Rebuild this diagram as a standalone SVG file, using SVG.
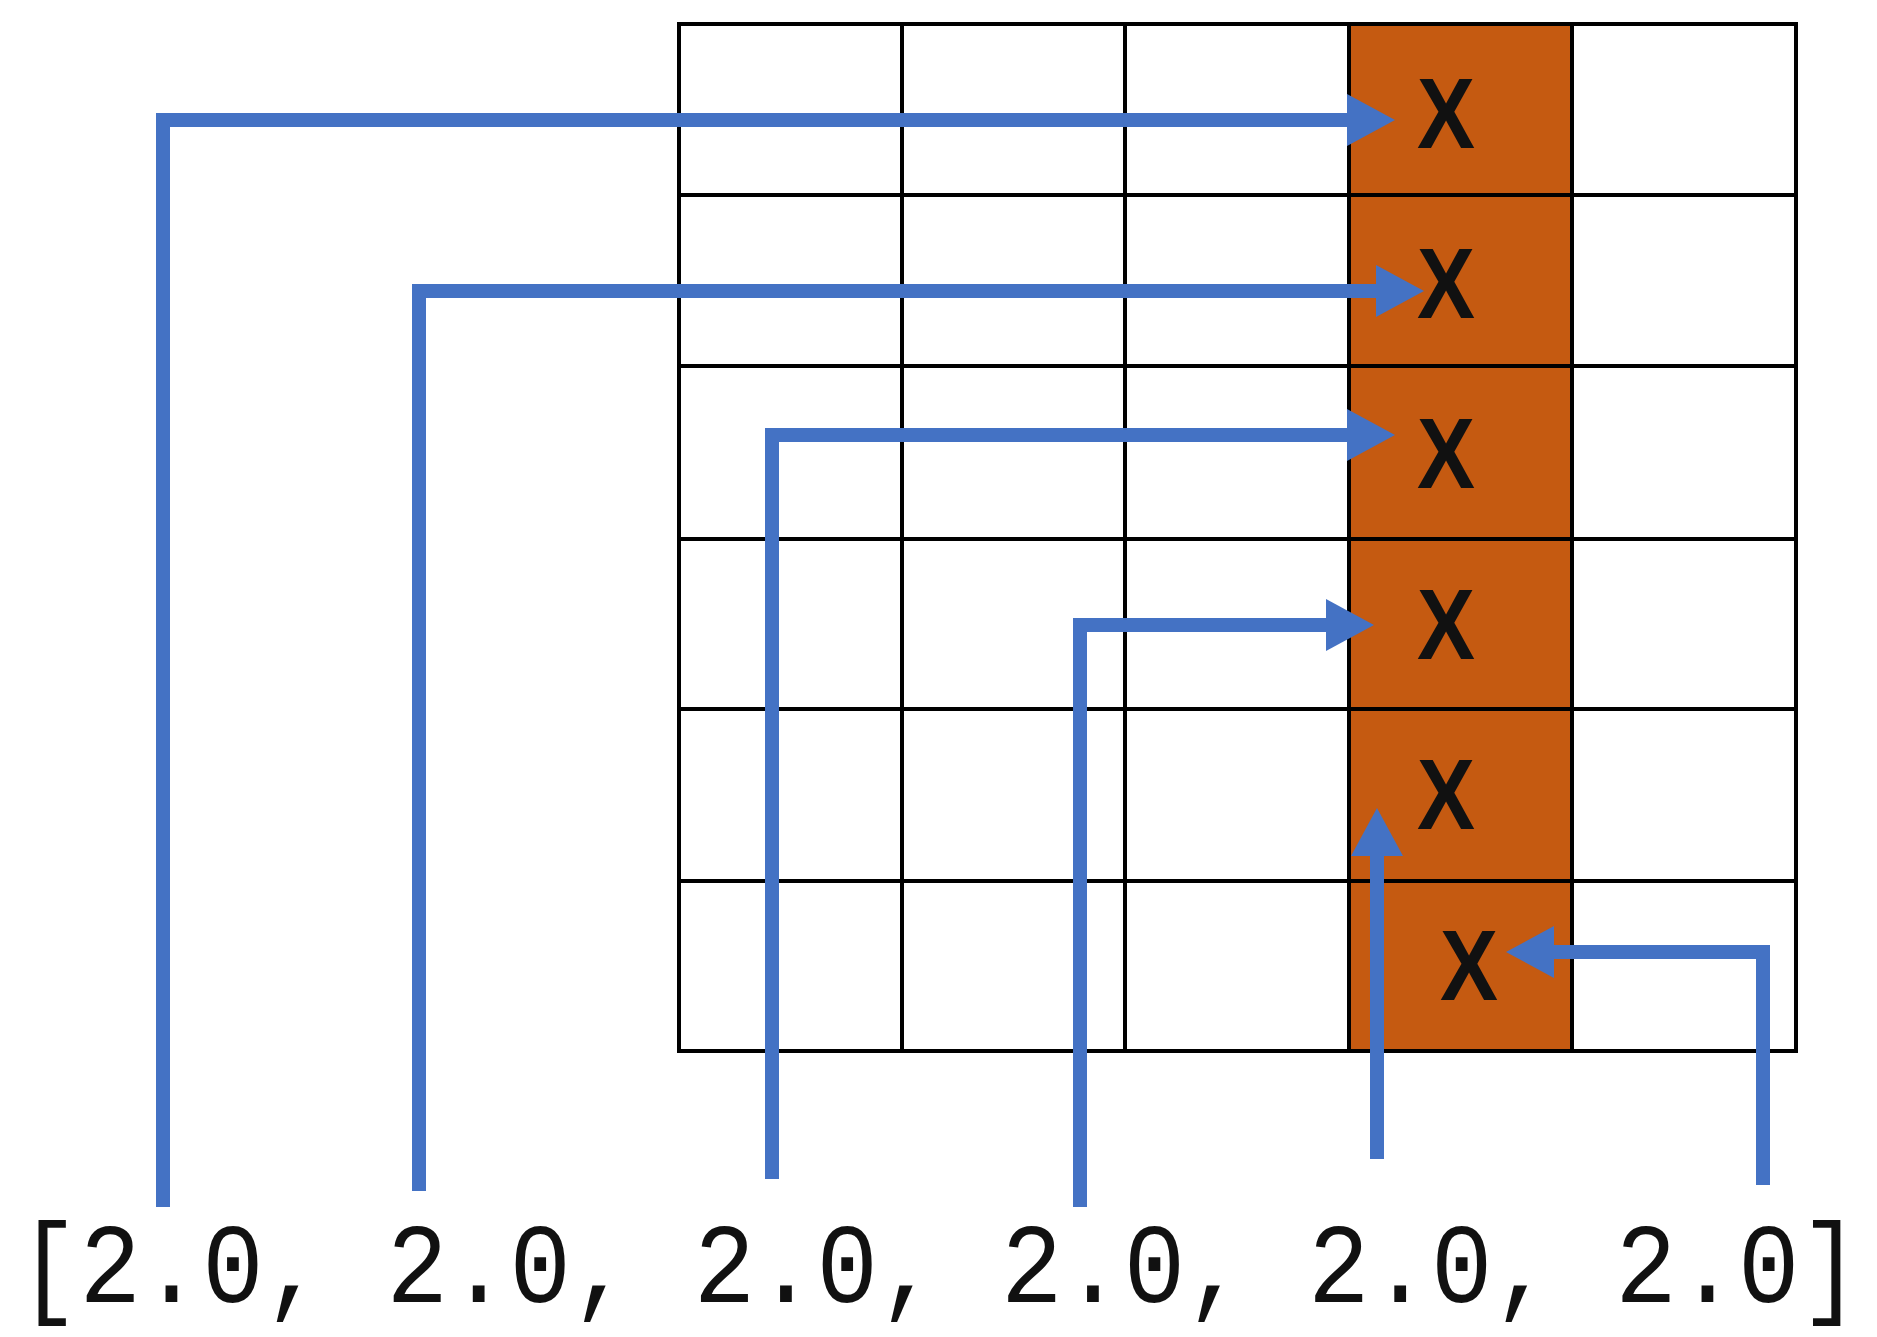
<svg xmlns="http://www.w3.org/2000/svg" width="1877" height="1337" viewBox="0 0 1877 1337">
<style>
.g{stroke:#000;stroke-width:4;fill:none}
.c{stroke:#4472C4;stroke-width:14;fill:none}
.x{font-family:"Liberation Sans",Arial,sans-serif;font-weight:bold;font-size:100px;fill:#111;text-anchor:middle}
.t{font-family:"Liberation Mono","Courier New",monospace;font-size:100px;fill:#111}
</style>
<defs>
<marker id="a" markerUnits="userSpaceOnUse" markerWidth="50" markerHeight="52" refX="8" refY="26" orient="auto"><path d="M0,0 L48,26 L0,52 Z" fill="#4472C4"/></marker>
</defs>
<rect width="1877" height="1337" fill="#fff"/>
<g id="grid">
<rect x="1349" y="24" width="223" height="1027" fill="#C55A11"/>
<path class="g" d="M679,24H1796V1051H679Z M902,24V1051 M1125,24V1051 M1349,24V1051 M1572,24V1051 M679,195H1796 M679,366H1796 M679,539H1796 M679,709H1796 M679,881H1796"/>
</g>
<g id="marks">
<text class="x" x="1446" y="148" textLength="58" lengthAdjust="spacingAndGlyphs">X</text>
<text class="x" x="1446" y="318" textLength="58" lengthAdjust="spacingAndGlyphs">X</text>
<text class="x" x="1446" y="488" textLength="58" lengthAdjust="spacingAndGlyphs">X</text>
<text class="x" x="1446" y="659" textLength="58" lengthAdjust="spacingAndGlyphs">X</text>
<text class="x" x="1446" y="829" textLength="58" lengthAdjust="spacingAndGlyphs">X</text>
<text class="x" x="1469" y="1000" textLength="58" lengthAdjust="spacingAndGlyphs">X</text>
</g>
<g id="connectors">
<path class="c" marker-end="url(#a)" d="M163,1207V120H1355"/>
<path class="c" marker-end="url(#a)" d="M419,1191V291H1384"/>
<path class="c" marker-end="url(#a)" d="M772,1179V435H1355"/>
<path class="c" marker-end="url(#a)" d="M1080,1207V625H1334"/>
<path class="c" marker-end="url(#a)" d="M1377,1159V848"/>
<path class="c" marker-end="url(#a)" d="M1763,1185V952H1546"/>
</g>
<g id="label">
<text class="t" x="18" y="1302" transform="translate(0,-182) scale(1,1.14)" textLength="1843" lengthAdjust="spacingAndGlyphs">[2.0, 2.0, 2.0, 2.0, 2.0, 2.0]</text>
</g>
</svg>
